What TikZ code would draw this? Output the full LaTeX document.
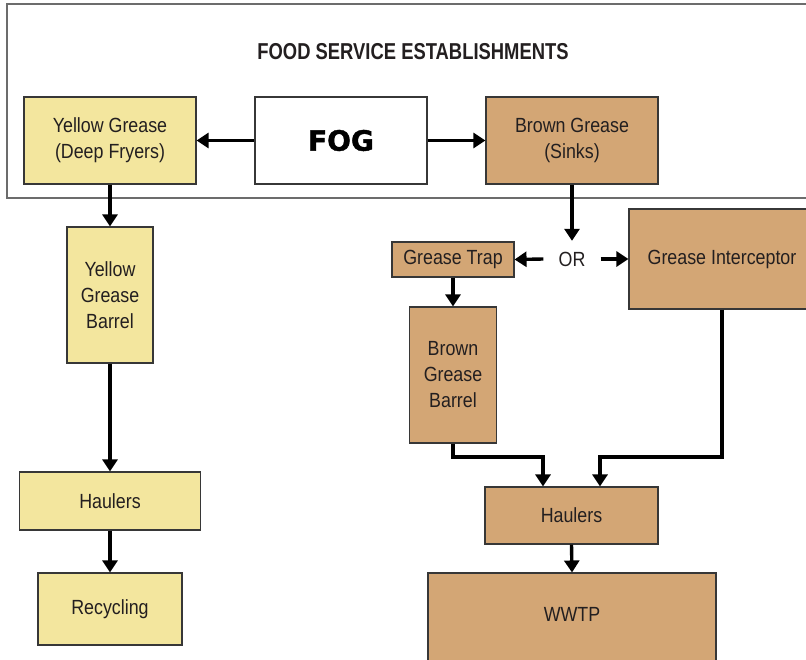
\documentclass[tikz,border=0pt]{standalone}
\usepackage{fontspec}
\setmainfont{Liberation Sans}[FakeStretch=0.87]
\newfontfamily\titlefont{Liberation Sans}[FakeStretch=0.8]
\newfontfamily\fogfont{DejaVu Sans}[FakeBold=1.5]
\usetikzlibrary{arrows.meta}
\definecolor{ylw}{RGB}{243,230,158}
\definecolor{brn}{RGB}{211,166,117}
\definecolor{edge}{RGB}{55,55,55}
\definecolor{txt}{RGB}{35,31,32}
\tikzset{
  box/.style={draw=edge, line width=1.1pt, rectangle, inner sep=0pt, align=center,
    text=txt, font=\fontsize{20.5}{26}\selectfont},
  ybox/.style={box, fill=ylw},
  bbox/.style={box, fill=brn},
  arr/.style={line width=3.4pt, -{Triangle[width=15pt,length=12pt]}},
  frame/.style={draw=gray!85!black, line width=1.4pt, rectangle, inner sep=0pt}
}
\begin{document}
\begin{tikzpicture}[x=1pt,y=-1pt]
\useasboundingbox (0,0) rectangle (806,659);
\fill[white] (0,0) rectangle (806,659);
% outer frame
\node[frame, minimum width=820pt, minimum height=194pt] (fse) at (417,101) {};
\node[text=txt, font=\titlefont\fontsize{23}{27}\bfseries\selectfont] (title) at (413,52) {FOOD SERVICE ESTABLISHMENTS};
% top row
\node[ybox, minimum width=172pt, minimum height=87pt] (yg) at (110,140.5) {Yellow Grease\\(Deep Fryers)};
\node[box, fill=white, minimum width=172pt, minimum height=87pt, font=\fogfont\fontsize{28}{32}\bfseries\selectfont, text=black] (fog) at (341,140.5) {FOG};
\node[bbox, minimum width=172pt, minimum height=87pt] (bg) at (572,140.5) {Brown Grease\\(Sinks)};
% yellow branch
\node[ybox, minimum width=86pt, minimum height=136pt] (ygb) at (110,295) {Yellow\\Grease\\Barrel};
\node[ybox, minimum width=181pt, minimum height=58pt] (yh) at (110,501) {Haulers};
\node[ybox, minimum width=144pt, minimum height=72pt] (rec) at (110,609) {Recycling};
% brown branch
\node[inner sep=0pt, minimum width=57pt, minimum height=36pt, text=txt, font=\fontsize{20.5}{26}\selectfont] (or) at (572,259) {OR};
\node[bbox, minimum width=122pt, minimum height=35pt] (trap) at (453,259.5) {Grease Trap};
\node[bbox, minimum width=186pt, minimum height=100pt] (gi) at (722,259) {Grease Interceptor};
\node[bbox, minimum width=87pt, minimum height=136pt] (bgb) at (453,375) {Brown\\Grease\\Barrel};
\node[bbox, minimum width=173pt, minimum height=57pt] (bh) at (571.5,515.5) {Haulers};
\node[bbox, minimum width=288pt, minimum height=110pt] (wwtp) at (572,628) {};
\node[text=txt, font=\fontsize{20.5}{26}\selectfont] (wwtplabel) at (572,614) {WWTP};
\coordinate (elb) at (0,457);
% connectors
\draw[arr] (fog.west) -- (yg.east);
\draw[arr] (fog.east) -- (bg.west);
\draw[arr] (yg.south) -- (ygb.north);
\draw[arr] (ygb.south) -- (yh.north);
\draw[arr] (yh.south) -- (rec.north);
\draw[arr] (bg.south) -- (or.north);
\draw[arr] (or.west) -- (trap.east);
\draw[arr] (or.east) -- (gi.west);
\draw[arr] (trap.south) -- (bgb.north);
\draw[arr] (bgb.south) -- (bgb.south |- elb) -| ([xshift=-28.5pt]bh.north);
\draw[arr] (gi.south) -- (gi.south |- elb) -| ([xshift=28.5pt]bh.north);
\draw[arr] (bh.south) -- (wwtp.north);
\end{tikzpicture}
\end{document}
